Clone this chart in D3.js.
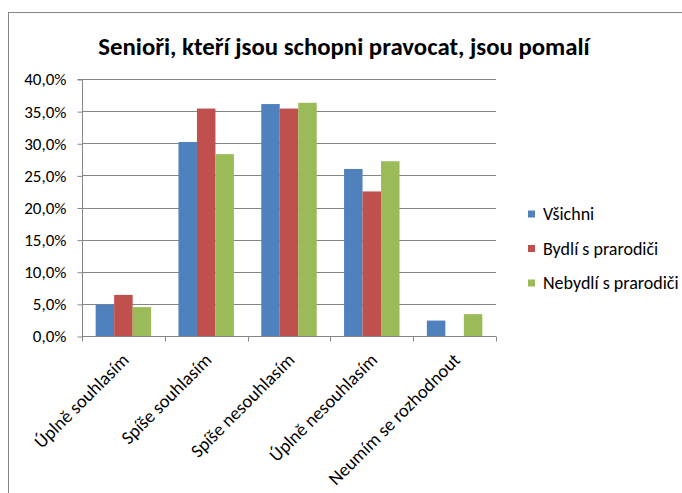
<!DOCTYPE html>
<html><head><meta charset="utf-8">
<script src="https://cdn.jsdelivr.net/npm/d3@7"></script>
<style>html,body{margin:0;padding:0;background:#fff;}svg{display:block;}</style>
</head><body>
<svg id="chart" width="682" height="493"></svg>
<script>
const title = "Senioři, kteří jsou schopni pravocat, jsou pomalí";
const categories = ["Úplně souhlasím", "Spíše souhlasím", "Spíše nesouhlasím", "Úplně nesouhlasím", "Neumím se rozhodnout"];
const seriesNames = ["Všichni", "Bydlí s prarodiči", "Nebydlí s prarodiči"];
const vsichni = [0.049, 0.302, 0.361, 0.260, 0.024];
const bydli = [0.064, 0.354, 0.354, 0.225, 0.0];
const nebydli = [0.045, 0.283, 0.363, 0.272, 0.034];
const yTicks = [0, 0.05, 0.10, 0.15, 0.20, 0.25, 0.30, 0.35, 0.40];
const colors = ["#4F81BD", "#C0504D", "#9BBB59"];

const seriesValues = [vsichni, bydli, nebydli];
const font = "Carlito, Lato, 'Liberation Sans', sans-serif";
const svg = d3.select("#chart");

// chart border
svg.append("rect").attr("x", 8.5).attr("y", 12.5).attr("width", 700).attr("height", 500)
  .attr("fill", "none").attr("stroke", "#868686").attr("stroke-width", 1);

const plot = {left: 82, right: 496, top: 79, bottom: 336};
const x0 = d3.scaleBand().domain(categories).range([plot.left, plot.right]).padding(0);
const x1 = d3.scaleBand().domain(seriesNames).range([x0.bandwidth() * 0.165, x0.bandwidth() * 0.835]).padding(0);
const y = d3.scaleLinear().domain([0, 0.4]).range([plot.bottom, plot.top]);

// gridlines
svg.append("g").selectAll("line").data(yTicks.slice(1)).join("line")
  .attr("x1", plot.left).attr("x2", plot.right)
  .attr("y1", d => Math.round(y(d)) + 0.5).attr("y2", d => Math.round(y(d)) + 0.5)
  .attr("stroke", "#868686").attr("stroke-width", 1);

// bars
const data = [];
categories.forEach((c, i) => seriesNames.forEach((s, j) => {
  if (seriesValues[j][i] > 0) data.push({c, s, v: seriesValues[j][i], color: colors[j]});
}));
svg.append("g").selectAll("rect").data(data).join("rect")
  .attr("x", d => x0(d.c) + x1(d.s))
  .attr("y", d => y(d.v))
  .attr("width", x1.bandwidth())
  .attr("height", d => y(0) - y(d.v))
  .attr("fill", d => d.color);

// y axis
const yAxis = d3.axisLeft(y).tickValues(yTicks).tickSize(5).tickPadding(11)
  .tickFormat(d => (d * 100).toFixed(1).replace(".", ",") + "%");
const gy = svg.append("g").attr("transform", `translate(${plot.left + 0.5},0.5)`).call(yAxis);
gy.select(".domain").attr("stroke", "#868686").attr("d", `M-5,${plot.top}H0V${plot.bottom}`);
gy.selectAll(".tick line").attr("stroke", "#868686");
gy.selectAll(".tick text").attr("font-family", font).attr("font-size", 17).attr("fill", "#000");

// x axis
const gx = svg.append("g").attr("transform", `translate(0,${plot.bottom + 0.5})`);
gx.append("line").attr("x1", plot.left).attr("x2", plot.right).attr("y1", 0).attr("y2", 0).attr("stroke", "#868686");
const boundaries = categories.map(c => x0(c)).concat([plot.right]);
gx.selectAll("line.tk").data(boundaries).join("line").attr("class", "tk")
  .attr("x1", d => Math.round(d) + 0.5).attr("x2", d => Math.round(d) + 0.5)
  .attr("y1", 0).attr("y2", 5).attr("stroke", "#868686");
gx.selectAll("text").data(categories).join("text")
  .attr("transform", d => `translate(${x0(d) + x0.bandwidth() / 2 + 2},${20}) rotate(-45)`)
  .attr("text-anchor", "end").attr("dy", "0.35em")
  .attr("font-family", font).attr("font-size", 18.5).attr("fill", "#000")
  .text(d => d);

// title
svg.append("text").attr("x", 344).attr("y", 55).attr("text-anchor", "middle")
  .attr("font-family", font).attr("font-weight", "bold").attr("font-size", 24.8).attr("fill", "#000")
  .text(title);

// legend
const lg = svg.append("g");
seriesNames.forEach((s, j) => {
  const cy = 214 + j * 34.5;
  lg.append("rect").attr("x", 528).attr("y", cy - 3.5).attr("width", 7).attr("height", 7).attr("fill", colors[j]);
  lg.append("text").attr("x", 543).attr("y", cy).attr("dy", "0.35em")
    .attr("font-family", font).attr("font-size", 18).attr("fill", "#000").text(s);
});
</script>
</body></html>
